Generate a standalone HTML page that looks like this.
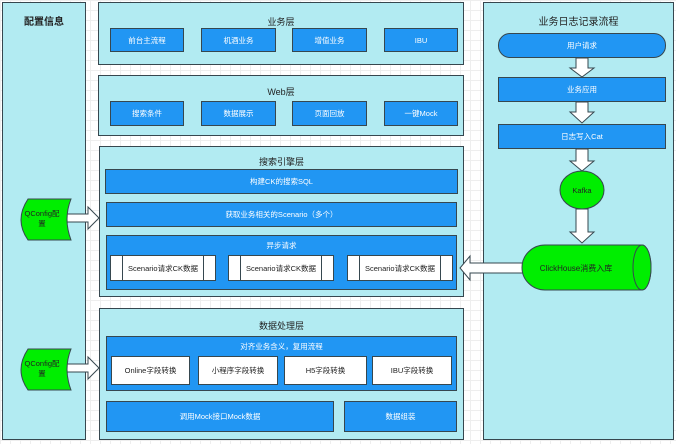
<!DOCTYPE html><html><head><meta charset="utf-8"><style>
body{margin:0;width:676px;height:444px;position:relative;overflow:hidden;font-family:"Liberation Sans","Noto Sans CJK SC",sans-serif;background:#fff;
background-image:linear-gradient(#eee 1px,transparent 1px),linear-gradient(90deg,#eee 1px,transparent 1px);background-size:10px 10px}
div{position:absolute;box-sizing:border-box}
.p{background:#b2ebf2;border:1.5px solid #36474f}
.t{font-size:9px;color:#222;text-align:center;width:100%}
.b{background:#2196f3;border:1.5px solid #36474f;color:#fff;font-size:7.5px;display:flex;align-items:center;justify-content:center}
.w{background:#fff;border:1.5px solid #36474f;color:#222;font-size:7.5px;display:flex;align-items:center;justify-content:center}
.s{background:#fff linear-gradient(90deg,transparent 11px,#36474f 11px,#36474f 12px,transparent 12px,transparent calc(100% - 12px),#36474f calc(100% - 12px),#36474f calc(100% - 11px),transparent calc(100% - 11px))}
svg{position:absolute;left:0;top:0}
</style></head><body>
<div class="p" style="left:2px;top:2px;width:84px;height:438px"><div class="t" style="top:10px;font-size:10px;font-weight:bold">配置信息</div></div>
<div class="p" style="left:98px;top:2px;width:366px;height:63px"><div class="t" style="top:12px">业务层</div></div>
<div class="b" style="left:110px;top:28px;width:74px;height:24px">前台主流程</div>
<div class="b" style="left:201px;top:28px;width:75px;height:24px">机酒业务</div>
<div class="b" style="left:292px;top:28px;width:75px;height:24px">增值业务</div>
<div class="b" style="left:384px;top:28px;width:74px;height:24px">IBU</div>
<div class="p" style="left:98px;top:75px;width:366px;height:61px"><div class="t" style="top:9px">Web层</div></div>
<div class="b" style="left:110px;top:101px;width:74px;height:25px">搜索条件</div>
<div class="b" style="left:201px;top:101px;width:75px;height:25px">数据展示</div>
<div class="b" style="left:292px;top:101px;width:75px;height:25px">页面回放</div>
<div class="b" style="left:384px;top:101px;width:74px;height:25px">一键Mock</div>
<div class="p" style="left:99px;top:146px;width:365px;height:151px"><div class="t" style="top:8px">搜索引擎层</div></div>
<div class="b" style="left:105px;top:169px;width:353px;height:25px">构建CK的搜索SQL</div>
<div class="b" style="left:106px;top:202px;width:351px;height:25px">获取业务相关的Scenario（多个）</div>
<div class="b" style="left:106px;top:235px;width:351px;height:55px;align-items:flex-start;padding-top:4px">异步请求</div>
<div class="w s" style="left:110px;top:255px;width:106px;height:26px">Scenario请求CK数据</div>
<div class="w s" style="left:228px;top:255px;width:106px;height:26px">Scenario请求CK数据</div>
<div class="w s" style="left:347px;top:255px;width:106px;height:26px">Scenario请求CK数据</div>
<div class="p" style="left:99px;top:308px;width:365px;height:132px"><div class="t" style="top:10px">数据处理层</div></div>
<div class="b" style="left:106px;top:336px;width:351px;height:55px;align-items:flex-start;padding-top:4px">对齐业务含义，复用流程</div>
<div class="w" style="left:111px;top:356px;width:79px;height:29px">Online字段转换</div>
<div class="w" style="left:198px;top:356px;width:80px;height:29px">小程序字段转换</div>
<div class="w" style="left:284px;top:356px;width:83px;height:29px">H5字段转换</div>
<div class="w" style="left:372px;top:356px;width:80px;height:29px">IBU字段转换</div>
<div class="b" style="left:106px;top:401px;width:228px;height:31px">调用Mock接口Mock数据</div>
<div class="b" style="left:344px;top:401px;width:113px;height:31px">数据组装</div>
<div class="p" style="left:483px;top:2px;width:191px;height:438px"><div class="t" style="top:10px;font-size:10px">业务日志记录流程</div></div>
<div class="b" style="left:498px;top:33px;width:168px;height:25px;border-radius:12px">用户请求</div>
<div class="b" style="left:498px;top:77px;width:168px;height:25px">业务应用</div>
<div class="b" style="left:498px;top:124px;width:168px;height:25px">日志写入Cat</div>
<svg width="676" height="444">
<g fill="#fff" stroke="#36474f" stroke-width="1">
<path d="M576 58h12v10h6l-12 9l-12-9h6z"/>
<path d="M576 102h12v10h6l-12 11l-12-11h6z"/>
<path d="M576 149h12v12h6l-12 10l-12-10h6z"/>
<path d="M576 209h12v23h6l-12 11l-12-11h6z"/>
<path d="M524 263v10h-54v7l-10-12l10-12v7z"/>
<path d="M64 214h24v-7l11 11l-11 11v-7h-24z"/>
<path d="M64 364h24v-7l11 11l-11 11v-7h-24z"/>
</g>
<ellipse cx="582" cy="190" rx="22" ry="19" fill="#00ee00" stroke="#36474f"/>
<text x="582" y="193" font-size="7.5" text-anchor="middle" fill="#222" font-family="Liberation Sans">Kafka</text>
<path d="M545 245h97a9 22.5 0 0 1 0 45h-97a23 22.5 0 0 1 0-45z" fill="#00ee00" stroke="#36474f"/>
<ellipse cx="642" cy="267.5" rx="9" ry="22.5" fill="#00ee00" stroke="#36474f"/>
<text x="576" y="271" font-size="8" text-anchor="middle" fill="#222" font-family="Liberation Sans,Noto Sans CJK SC">ClickHouse消费入库</text>
<g fill="#00ee00" stroke="#36474f">
<path d="M28 199h43q-8 20 0 41h-43q-14-20 0-41z"/>
<path d="M28 349h43q-8 20 0 41h-43q-14-20 0-41z"/>
</g>
<g font-size="7.5" fill="#222" text-anchor="middle" font-family="Liberation Sans,Noto Sans CJK SC">
<text x="42" y="216">QConfig配</text><text x="42" y="226">置</text>
<text x="42" y="366">QConfig配</text><text x="42" y="376">置</text>
</g>
</svg>
</body></html>
